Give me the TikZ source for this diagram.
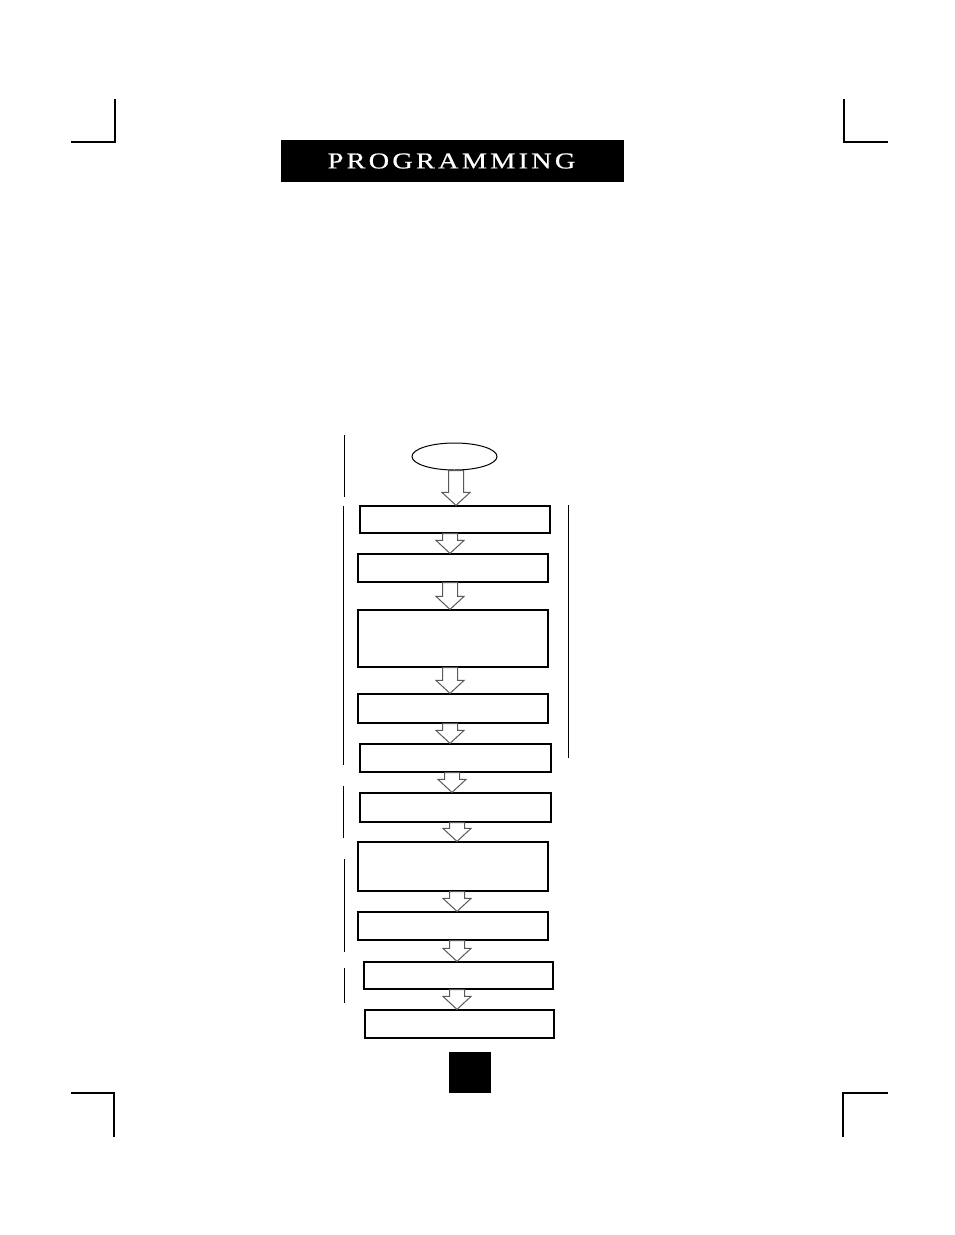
\documentclass[tikz,border=0pt]{standalone}
\usepackage{fontspec}
\usepackage{tikz}
\usetikzlibrary{calc}
\usetikzlibrary{shapes}
\newfontfamily\titlefont[LetterSpace=14, FakeStretch=1.25, FakeBold=0.6]{Liberation Serif}

\tikzset{
  stepbox/.style={draw, line width=1.2pt, fill=white, inner sep=0pt},
  bracket/.style={line width=1pt},
  cropmark/.style={line width=1.3pt},
  fatarrow/.style={draw=black!65, line width=1pt, fill=white,
    to path={let \p1=(\tikztostart), \p2=(\tikztotarget) in
      (\x2-7.5pt,\y1) -- (\x2+7.5pt,\y1) -- (\x2+7.5pt,\y2+13pt) -- (\x2+14pt,\y2+13pt)
      -- (\x2,\y2) -- (\x2-14pt,\y2+13pt) -- (\x2-7.5pt,\y2+13pt) -- cycle}}
}

\begin{document}
\begin{tikzpicture}[x=1pt, y=-1pt]
  \useasboundingbox (0,0) rectangle (954,1235);

  % crop marks
  \draw[cropmark] (71,142) -- (115,142) -- (115,99);
  \draw[cropmark] (888,142) -- (844,142) -- (844,99);
  \draw[cropmark] (71,1093) -- (114,1093) -- (114,1137);
  \draw[cropmark, line width=2pt] (888,1093) -- (843,1093) -- (843,1137);

  % title bar
  \node[fill=black, minimum width=343pt, minimum height=42pt, inner sep=0pt] (title) at (452.5,161) {};
  \node[text=white, inner sep=0pt] (titletext) at (451.5,161)
    {\fontsize{22.7}{24}\titlefont PROGRAMMING};

  % start
  \node[draw, ellipse, line width=1pt, minimum width=85pt, minimum height=27pt, inner sep=0pt] (start) at (454.5,456.5) {};

  % steps
  \node[stepbox, minimum width=190pt, minimum height=27pt] (b1)  at (455,519.5) {};
  \node[stepbox, minimum width=190pt, minimum height=28pt] (b2)  at (453,568) {};
  \node[stepbox, minimum width=190pt, minimum height=57pt] (b3)  at (453,638.5) {};
  \node[stepbox, minimum width=190pt, minimum height=29pt] (b4)  at (453,708.5) {};
  \node[stepbox, minimum width=191pt, minimum height=28pt] (b5)  at (455.5,758) {};
  \node[stepbox, minimum width=191pt, minimum height=29pt] (b6)  at (455.5,807.5) {};
  \node[stepbox, minimum width=190pt, minimum height=49pt] (b7)  at (453,866.5) {};
  \node[stepbox, minimum width=190pt, minimum height=28pt] (b8)  at (453,926) {};
  \node[stepbox, minimum width=189pt, minimum height=27pt] (b9)  at (458.5,975.5) {};
  \node[stepbox, minimum width=189pt, minimum height=28pt] (b10) at (459.5,1024) {};

  % arrows
  \draw[fatarrow] (start.south) to ([xshift=1pt]b1.north);
  \draw[fatarrow] (b1.south) to ([xshift=-3pt]b2.north);
  \draw[fatarrow] (b2.south) to ([xshift=-3pt]b3.north);
  \draw[fatarrow] (b3.south) to ([xshift=-3pt]b4.north);
  \draw[fatarrow] (b4.south) to ([xshift=-5.5pt]b5.north);
  \draw[fatarrow] (b5.south) to ([xshift=-3.5pt]b6.north);
  \draw[fatarrow] (b6.south) to ([xshift=4pt]b7.north);
  \draw[fatarrow] (b7.south) to ([xshift=4pt]b8.north);
  \draw[fatarrow] (b8.south) to ([xshift=-1.5pt]b9.north);
  \draw[fatarrow] (b9.south) to ([xshift=-2.5pt]b10.north);

  % brackets
  \draw[bracket] (344,435) -- (344,497);
  \draw[bracket] (343,506) -- (343,765);
  \draw[bracket] (343,786) -- (343,838);
  \draw[bracket] (344,859) -- (344,952);
  \draw[bracket] (344,968) -- (344,1003);
  \draw[bracket] (568,505) -- (568,758);

  % page number
  \node[fill=black, minimum width=42pt, minimum height=41pt, inner sep=0pt] (page) at (470,1072.5) {};
\end{tikzpicture}
\end{document}
